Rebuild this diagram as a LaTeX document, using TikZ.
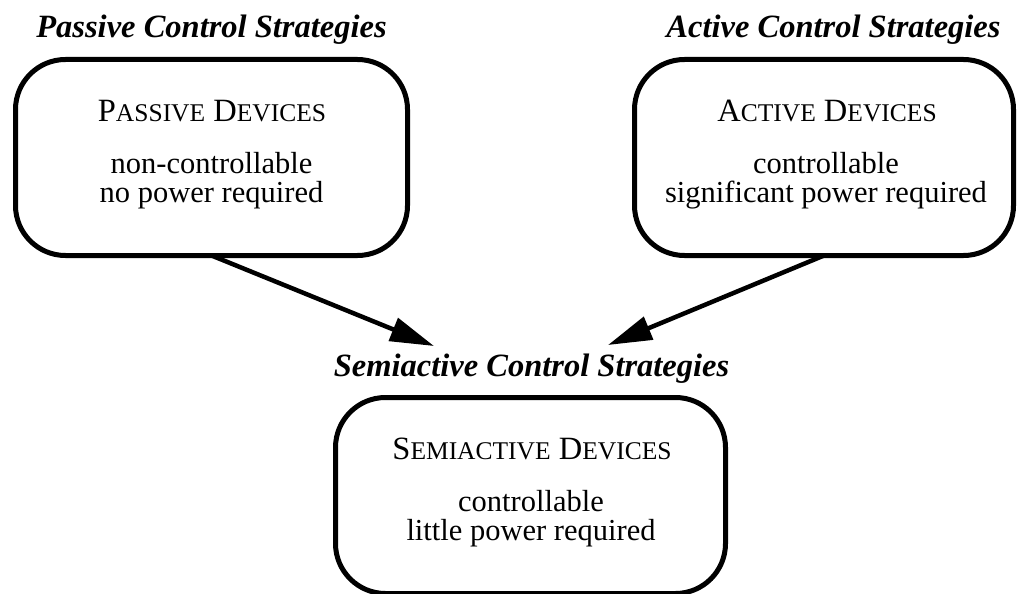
\documentclass[tikz,border=0pt]{standalone}
\usepackage{fontspec}
\setmainfont{Liberation Serif}
\usetikzlibrary{arrows.meta}
\newcommand\fksc[1]{{\fontsize{25.5}{25.5}\selectfont #1}}
\begin{document}
\begin{tikzpicture}[x=1pt,y=-1pt,
  devbox/.style={draw=black, line width=5pt, rounded corners=50pt, minimum width=#1, minimum height=196pt, inner sep=0pt, outer sep=0pt},
  strat/.style={font=\fontsize{32.5}{36}\selectfont\bfseries\itshape, anchor=base, inner sep=0pt},
  devhead/.style={font=\fontsize{32.5}{29}\selectfont, anchor=base, inner sep=0pt},
  devline/.style={font=\fontsize{30.5}{29}\selectfont, anchor=base, inner sep=0pt},
  conn/.style={line width=4.5pt, -{Triangle[length=44pt,width=24pt]}}]
\useasboundingbox (0,0) rectangle (1017,594);

% boxes
\node[devbox=392pt] (pbox) at (211.5,157.5) {};
\node[devbox=379pt] (abox) at (824,157.5) {};
\node[devbox=390pt] (sbox) at (530.5,495.5) {};

% titles
\node[strat] (ptitle) at (211.5,38) {Passive Control Strategies};
\node[strat] (atitle) at (833.5,38) {Active Control Strategies};
\node[strat] (stitle) at (531.5,376) {Semiactive Control Strategies};

% passive text
\node[devhead] (ph) at (212,121) {P\fksc{ASSIVE} D\fksc{EVICES}};
\node[devline] (pl1) at (211.5,173) {non-controllable};
\node[devline] (pl2) at (211.5,202) {no power required};

% active text
\node[devhead] (ah) at (827,121) {A\fksc{CTIVE} D\fksc{EVICES}};
\node[devline] (al1) at (826,173) {controllable};
\node[devline] (al2) at (826,202) {significant power required};

% semiactive text
\node[devhead] (sh) at (532,459) {S\fksc{EMIACTIVE} D\fksc{EVICES}};
\node[devline] (sl1) at (531,511) {controllable};
\node[devline] (sl2) at (531,540) {little power required};

% connectors
\coordinate (tipL) at (434,346);
\coordinate (tipR) at (608,345);
\draw[conn] (pbox.south) -- (tipL);
\draw[conn] (abox.south) -- (tipR);
\end{tikzpicture}
\end{document}
